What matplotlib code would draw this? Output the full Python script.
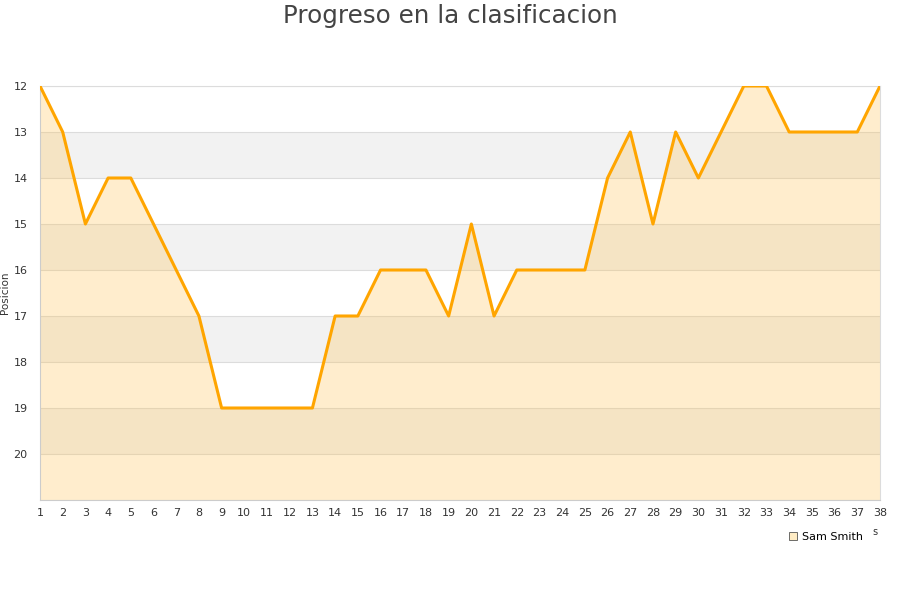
import matplotlib
matplotlib.use("Agg")
import matplotlib.pyplot as plt
from matplotlib.lines import Line2D

jornadas = list(range(1, 39))
posiciones = [12, 13, 15, 14, 14, 15, 16, 17, 19, 19, 19, 19, 19, 17, 17, 16, 16, 16, 17, 15,
              17, 16, 16, 16, 16, 14, 13, 15, 13, 14, 13, 12, 12, 13, 13, 13, 13, 12]
yticks = [12, 13, 14, 15, 16, 17, 18, 19, 20]
serie = "Sam Smith"
titulo = "Progreso en la clasificacion"

fig = plt.figure(figsize=(9, 6), dpi=100)
ax = fig.add_axes([40/900, 1-500/600, 840/900, 414/600])

ymin, ymax = 12, 21
for k in range(ymin, ymax):
    if (k - ymin) % 2 == 1:
        ax.axhspan(k, k+1, color="#f2f2f2", zorder=0, lw=0)
for k in range(ymin, ymax + 1):
    ax.axhline(k, color="#dcdcdc", lw=0.8, zorder=1)

ax.fill_between(jornadas, posiciones, ymax, color="#ffc04d", alpha=0.28, lw=0, zorder=2)
ax.plot(jornadas, posiciones, color="#ffa500", lw=2.2, zorder=3)

ax.set_xlim(1, 38)
ax.set_ylim(ymax, ymin)
ax.set_xticks(jornadas)
ax.set_yticks(yticks)
ax.tick_params(axis="both", length=0, labelsize=8, colors="#333333")
ax.tick_params(axis="x", pad=6)
ax.tick_params(axis="y", pad=9)
for s in ["top", "right"]:
    ax.spines[s].set_color("#dcdcdc")
    ax.spines[s].set_linewidth(0.8)
for s in ["left", "bottom"]:
    ax.spines[s].set_color("#cccccc")
    ax.spines[s].set_linewidth(0.8)
ax.set_ylabel("Posicion", fontsize=7.5, color="#333333")
ax.yaxis.set_label_coords(-30/840, 0.5)

fig.text(0.5, 1-16/600, titulo, ha="center", va="center", fontsize=17.7, color="#444444")

handle = Line2D([], [], marker="s", ls="none", markersize=6, markerfacecolor="#ffecc4",
                markeredgecolor="#555555", markeredgewidth=0.6)
fig.legend([handle], [serie], loc="center", bbox_to_anchor=(825/900, 1-537/600),
           frameon=False, fontsize=8, handletextpad=0.3, handlelength=1)
fig.text(875/900, 1-532/600, "s", fontsize=7, color="#333333", ha="center", va="center")

fig.savefig("out.png", dpi=100)
